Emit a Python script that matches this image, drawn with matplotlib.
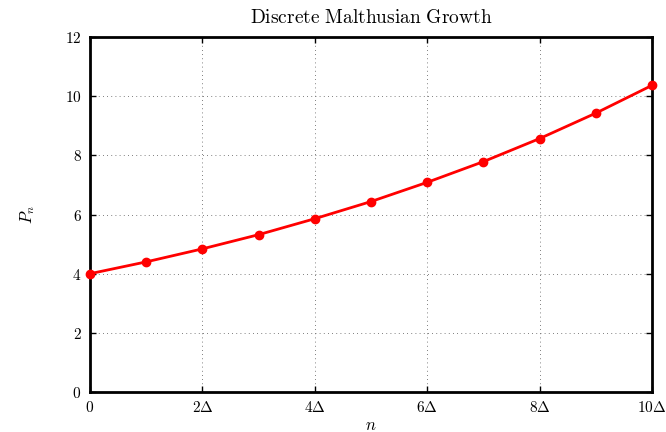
import matplotlib
matplotlib.use("Agg")
import matplotlib.pyplot as plt

n_vals = [0, 1, 2, 3, 4, 5, 6, 7, 8, 9, 10]
P_vals = [4.0, 4.4, 4.84, 5.32, 5.86, 6.44, 7.09, 7.79, 8.57, 9.43, 10.37]
x_ticks = [0, 2, 4, 6, 8, 10]
x_tick_labels = [r'$0$', r'$2\Delta$', r'$4\Delta$', r'$6\Delta$', r'$8\Delta$', r'$10\Delta$']
y_ticks = [0, 2, 4, 6, 8, 10, 12]

plt.rcParams['mathtext.fontset'] = 'cm'
plt.rcParams['font.family'] = 'serif'
plt.rcParams['font.serif'] = ['cmr10', 'DejaVu Serif']
plt.rcParams['axes.formatter.use_mathtext'] = True

fig = plt.figure(figsize=(6.66, 4.32), dpi=100)
ax = fig.add_axes([0.135, 0.0926, 0.844, 0.8214])

ax.plot(n_vals, P_vals, color='red', linewidth=2, marker='o', markersize=6,
        markerfacecolor='red', markeredgecolor='red', clip_on=False, zorder=3)

ax.set_xlim(0, 10)
ax.set_ylim(0, 12)
ax.set_xticks(x_ticks)
ax.set_xticklabels(x_tick_labels, fontsize=11)
ax.set_yticks(y_ticks)
ax.set_yticklabels([r'$%d$' % v for v in y_ticks], fontsize=11)
ax.tick_params(direction='in', length=4, width=1, top=True, right=True, pad=6)
ax.grid(True, linestyle=(0, (1, 4)), color='#555555', linewidth=0.6)
for s in ax.spines.values():
    s.set_linewidth(2)

ax.set_title(r'$\mathrm{Discrete\ Malthusian\ Growth}$', fontsize=14, pad=10)
ax.set_xlabel(r'$n$', fontsize=12, labelpad=2)
ax.set_ylabel(r'$P_n$', fontsize=12, labelpad=20)

fig.savefig('out.png', dpi=100)
